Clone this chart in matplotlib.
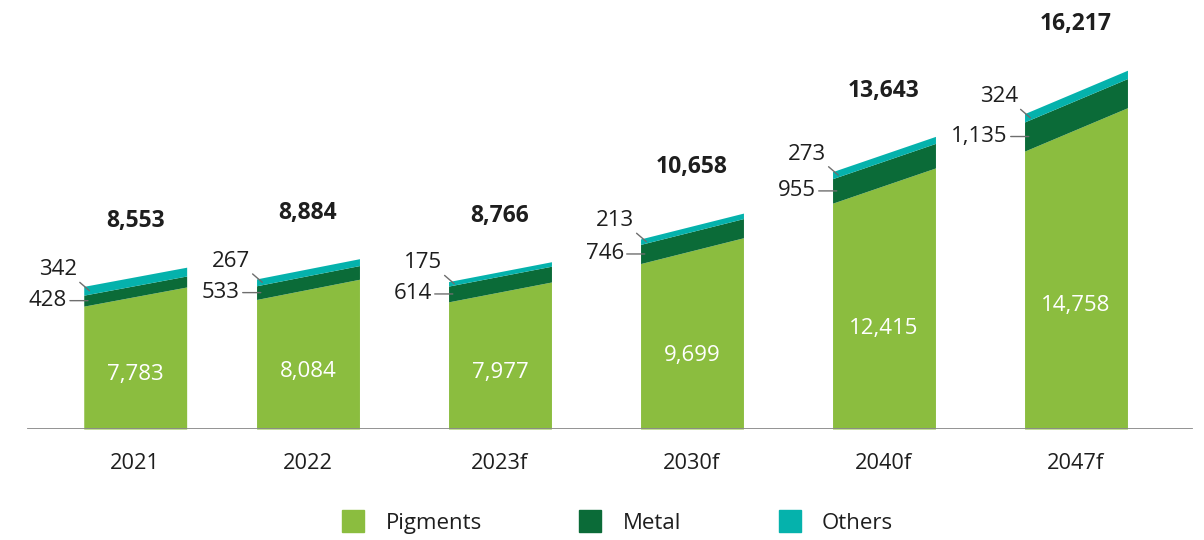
import matplotlib
matplotlib.use("Agg")
import matplotlib.pyplot as plt
from matplotlib.patches import Patch

plt.rcParams['font.family'] = ['Open Sans', 'DejaVu Sans']

years = ["2021", "2022", "2023f", "2030f", "2040f", "2047f"]
pigments = [7783, 8084, 7977, 9699, 12415, 14758]
metal = [428, 533, 614, 746, 955, 1135]
others = [342, 267, 175, 213, 273, 324]
totals = [8553, 8884, 8766, 10658, 13643, 16217]

# layout
xpos = [0.1, 1, 2, 3, 4, 5]
bar_w = 0.536
ymin = 2257          # baseline of the chart is not zero
slant = 0.135        # left edge of each bar sits lower (decorative slope)

c_pig = "#8BBD3F"
c_met = "#0B6B38"
c_oth = "#05B2AC"
c_txt = "#1E1E1E"

fig = plt.figure(figsize=(12.04, 5.4), dpi=100)
ax = fig.add_axes([0, 111 / 540, 1, 429 / 540])
ax.set_xlim(-116 / 192, (1204 - 116) / 192)
ax.set_ylim(ymin, ymin + 429 / 0.0257)
for s in ax.spines.values():
    s.set_visible(False)
ax.set_yticks([])
ax.axhline(ymin, xmin=28 / 1204, xmax=1192 / 1204, color="#8A8A8A", lw=1.3, zorder=5)

for i, x in enumerate(xpos):
    l, r = x - bar_w / 2, x + bar_w / 2
    p = pigments[i]
    pm = p + metal[i]
    t = pm + others[i]
    drop = slant * (p - ymin)
    ax.fill_between([l, r], [ymin, ymin], [p - drop, p], color=c_pig, lw=0)
    ax.fill_between([l, r], [p - drop, p], [pm - drop, pm], color=c_met, lw=0)
    ax.fill_between([l, r], [pm - drop, pm], [t - drop, t], color=c_oth, lw=0)

    # inside label for pigments
    ax.text(x, ymin + 0.385 * (p - ymin), f"{p:,}", color="white", fontsize=16,
            ha="center", va="center")
    # total on top
    ax.annotate(f"{totals[i]:,}", xy=(x, t), xytext=(0, 33), textcoords="offset points",
                ha="center", va="center", fontsize=16.5, fontweight="bold", color=c_txt)
    # metal label with leader
    ax.annotate(f"{metal[i]:,}", xy=(l + 0.022, (p + pm) / 2 - drop),
                xytext=(-15, 0), textcoords="offset points", ha="right", va="center",
                fontsize=16, color=c_txt,
                arrowprops=dict(arrowstyle="-", color="#6E6E6E", lw=1,
                                relpos=(1, 0.5), shrinkA=0, shrinkB=0))
    # others label with leader
    ax.annotate(f"{others[i]:,}", xy=(l + 0.03, (pm + t) / 2 - drop),
                xytext=(-9, 15), textcoords="offset points", ha="right", va="center",
                fontsize=16, color=c_txt,
                arrowprops=dict(arrowstyle="-", color="#6E6E6E", lw=1,
                                relpos=(0.95, 0.1), shrinkA=0, shrinkB=0))

ax.set_xticks(xpos)
ax.set_xticklabels(years, fontsize=15.7, color=c_txt)
ax.tick_params(axis="x", length=0, pad=17)

handles = [Patch(color=c_pig, label="Pigments"),
           Patch(color=c_met, label="Metal"),
           Patch(color=c_oth, label="Others")]
fig.legend(handles=handles, loc="center", bbox_to_anchor=(0.513, 0.033), ncol=3,
           frameon=False, fontsize=16, handlelength=0.99, handleheight=1.15,
           handletextpad=0.95, columnspacing=4.4, labelcolor=c_txt)

fig.savefig("out.png", dpi=100)
